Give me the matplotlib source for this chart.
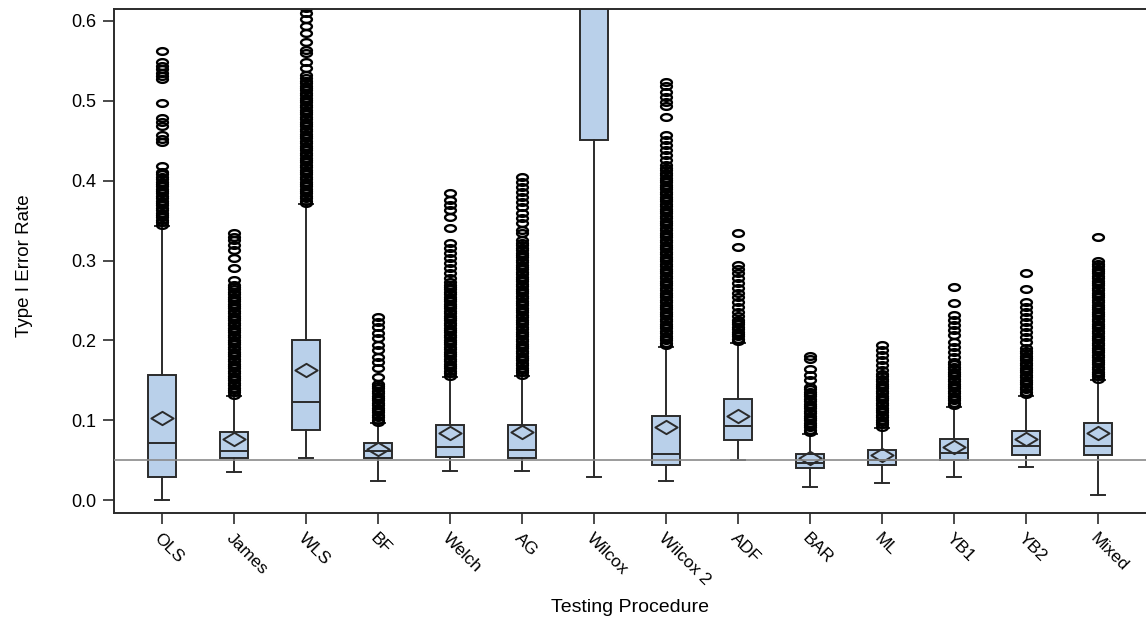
import numpy as np
import matplotlib
matplotlib.use("Agg")
import matplotlib.pyplot as plt
from matplotlib.path import Path

procedures = ["OLS", "James", "WLS", "BF", "Welch", "AG", "Wilcox", "Wilcox 2",
              "ADF", "BAR", "ML", "YB1", "YB2", "Mixed"]

q1 = [0.029, 0.053, 0.088, 0.053, 0.054, 0.053, 0.451, 0.044, 0.075, 0.040, 0.044, 0.050, 0.057, 0.057]
medians = [0.071, 0.061, 0.123, 0.061, 0.066, 0.063, 0.760, 0.058, 0.093, 0.046, 0.050, 0.059, 0.068, 0.068]
q3 = [0.157, 0.085, 0.200, 0.071, 0.094, 0.094, 0.950, 0.105, 0.127, 0.058, 0.063, 0.076, 0.086, 0.096]
means = [0.103, 0.076, 0.163, 0.064, 0.084, 0.085, 0.780, 0.092, 0.105, 0.053, 0.056, 0.067, 0.077, 0.084]
whis_lo = [0.000, 0.035, 0.053, 0.024, 0.036, 0.036, 0.029, 0.024, 0.050, 0.017, 0.022, 0.029, 0.041, 0.007]
whis_hi = [0.343, 0.131, 0.371, 0.096, 0.154, 0.155, 1.000, 0.192, 0.197, 0.083, 0.090, 0.117, 0.131, 0.150]

# outliers (solid-looking columns listed at ~0.003 spacing)
ols_out = [0.345, 0.348, 0.351, 0.354, 0.357, 0.360, 0.363, 0.366, 0.369, 0.372, 0.375, 0.378, 0.381,
           0.384, 0.387, 0.390, 0.393, 0.396, 0.399, 0.402, 0.405, 0.408, 0.411, 0.418, 0.449, 0.452,
           0.457, 0.468, 0.474, 0.478, 0.497, 0.527, 0.531, 0.535, 0.540, 0.544, 0.549, 0.562]
james_out = [0.132, 0.135, 0.138, 0.141, 0.144, 0.147, 0.150, 0.153, 0.156, 0.159, 0.162, 0.165, 0.168,
             0.171, 0.174, 0.177, 0.180, 0.183, 0.186, 0.189, 0.192, 0.195, 0.198, 0.201, 0.204, 0.207,
             0.210, 0.213, 0.216, 0.219, 0.222, 0.225, 0.228, 0.231, 0.234, 0.237, 0.240, 0.243, 0.246,
             0.249, 0.252, 0.255, 0.258, 0.261, 0.264, 0.267, 0.270, 0.276, 0.291, 0.303, 0.313, 0.320,
             0.326, 0.330, 0.334]
wls_out = [0.372, 0.375, 0.378, 0.381, 0.384, 0.387, 0.390, 0.393, 0.396, 0.399, 0.402, 0.405, 0.408,
           0.411, 0.414, 0.417, 0.420, 0.423, 0.426, 0.429, 0.432, 0.435, 0.438, 0.441, 0.444, 0.447,
           0.450, 0.453, 0.456, 0.459, 0.462, 0.465, 0.468, 0.471, 0.474, 0.477, 0.480, 0.483, 0.486,
           0.489, 0.492, 0.495, 0.498, 0.501, 0.504, 0.507, 0.510, 0.513, 0.516, 0.519, 0.522, 0.525,
           0.528, 0.532, 0.541, 0.549, 0.560, 0.564, 0.574, 0.585, 0.594, 0.602, 0.610, 0.616]
bf_out = [0.098, 0.101, 0.104, 0.107, 0.110, 0.113, 0.116, 0.119, 0.122, 0.125, 0.128, 0.131, 0.134,
          0.137, 0.140, 0.143, 0.146, 0.154, 0.165, 0.173, 0.179, 0.188, 0.194, 0.203, 0.209, 0.217,
          0.223, 0.229]
welch_out = [0.156, 0.159, 0.162, 0.165, 0.168, 0.171, 0.174, 0.177, 0.180, 0.183, 0.186, 0.189, 0.192,
             0.195, 0.198, 0.201, 0.204, 0.207, 0.210, 0.213, 0.216, 0.219, 0.222, 0.225, 0.228, 0.231,
             0.234, 0.237, 0.240, 0.243, 0.246, 0.249, 0.252, 0.255, 0.258, 0.261, 0.264, 0.267, 0.270,
             0.273, 0.278, 0.284, 0.291, 0.297, 0.303, 0.310, 0.316, 0.322, 0.341, 0.355, 0.363, 0.370,
             0.376, 0.385]
ag_out = [0.157, 0.160, 0.163, 0.166, 0.169, 0.172, 0.175, 0.178, 0.181, 0.184, 0.187, 0.190, 0.193,
          0.196, 0.199, 0.202, 0.205, 0.208, 0.211, 0.214, 0.217, 0.220, 0.223, 0.226, 0.229, 0.232,
          0.235, 0.238, 0.241, 0.244, 0.247, 0.250, 0.253, 0.256, 0.259, 0.262, 0.265, 0.268, 0.271,
          0.274, 0.277, 0.280, 0.283, 0.286, 0.289, 0.292, 0.295, 0.298, 0.301, 0.304, 0.307, 0.310,
          0.313, 0.316, 0.319, 0.322, 0.326, 0.335, 0.338, 0.347, 0.353, 0.360, 0.367, 0.373, 0.380,
          0.386, 0.392, 0.398, 0.405]
wilcox_out = []
wilcox2_out = [0.194, 0.197, 0.200, 0.203, 0.206, 0.209, 0.212, 0.215, 0.218, 0.221, 0.224, 0.227,
               0.230, 0.233, 0.236, 0.239, 0.242, 0.245, 0.248, 0.251, 0.254, 0.257, 0.260, 0.263,
               0.266, 0.269, 0.272, 0.275, 0.278, 0.281, 0.284, 0.287, 0.290, 0.293, 0.296, 0.299,
               0.302, 0.305, 0.308, 0.311, 0.314, 0.317, 0.320, 0.323, 0.326, 0.329, 0.332, 0.335,
               0.338, 0.341, 0.344, 0.347, 0.350, 0.353, 0.356, 0.359, 0.362, 0.365, 0.368, 0.371,
               0.374, 0.377, 0.380, 0.383, 0.386, 0.389, 0.392, 0.395, 0.398, 0.401, 0.404, 0.407,
               0.410, 0.413, 0.416, 0.420, 0.426, 0.432, 0.439, 0.445, 0.451, 0.457, 0.480, 0.493,
               0.499, 0.505, 0.511, 0.518, 0.524]
adf_out = [0.199, 0.202, 0.205, 0.208, 0.211, 0.214, 0.217, 0.220, 0.223, 0.226, 0.230, 0.236, 0.242,
           0.248, 0.254, 0.260, 0.266, 0.272, 0.278, 0.284, 0.290, 0.295, 0.317, 0.334]
bar_out = [0.085, 0.088, 0.091, 0.094, 0.097, 0.100, 0.103, 0.106, 0.109, 0.112, 0.115, 0.118, 0.121,
           0.124, 0.127, 0.130, 0.133, 0.136, 0.139, 0.142, 0.150, 0.157, 0.164, 0.177, 0.180]
ml_out = [0.092, 0.095, 0.098, 0.101, 0.104, 0.107, 0.110, 0.113, 0.116, 0.119, 0.122, 0.125, 0.128,
          0.131, 0.134, 0.137, 0.140, 0.143, 0.146, 0.149, 0.152, 0.155, 0.158, 0.163, 0.169, 0.175,
          0.182, 0.188, 0.194]
yb1_out = [0.119, 0.122, 0.125, 0.128, 0.131, 0.134, 0.137, 0.140, 0.143, 0.146, 0.149, 0.152, 0.155,
           0.158, 0.161, 0.164, 0.167, 0.170, 0.173, 0.179, 0.185, 0.192, 0.198, 0.207, 0.213, 0.219,
           0.226, 0.232, 0.247, 0.267]
yb2_out = [0.133, 0.136, 0.139, 0.142, 0.145, 0.148, 0.151, 0.154, 0.157, 0.160, 0.163, 0.166, 0.169,
           0.172, 0.175, 0.178, 0.181, 0.184, 0.187, 0.190, 0.198, 0.204, 0.211, 0.217, 0.223, 0.229,
           0.236, 0.242, 0.248, 0.264, 0.285]
mixed_out = [0.152, 0.155, 0.158, 0.161, 0.164, 0.167, 0.170, 0.173, 0.176, 0.179, 0.182, 0.185, 0.188,
             0.191, 0.194, 0.197, 0.200, 0.203, 0.206, 0.209, 0.212, 0.215, 0.218, 0.221, 0.224, 0.227,
             0.230, 0.233, 0.236, 0.239, 0.242, 0.245, 0.248, 0.251, 0.254, 0.257, 0.260, 0.263, 0.266,
             0.269, 0.272, 0.275, 0.278, 0.281, 0.284, 0.287, 0.290, 0.293, 0.296, 0.300, 0.329]

outliers = [ols_out, james_out, wls_out, bf_out, welch_out, ag_out, wilcox_out, wilcox2_out,
            adf_out, bar_out, ml_out, yb1_out, yb2_out, mixed_out]

nominal_alpha = 0.05
yticks = [0.0, 0.1, 0.2, 0.3, 0.4, 0.5, 0.6]

stats = []
for i, name in enumerate(procedures):
    stats.append(dict(label=name, q1=q1[i], med=medians[i], q3=q3[i], mean=means[i],
                      whislo=whis_lo[i], whishi=whis_hi[i], fliers=outliers[i]))

# squashed circle / diamond markers like the original output
t = np.linspace(0, 2 * np.pi, 40)
ellipse = Path(np.column_stack([np.cos(t), 0.62 * np.sin(t)]), closed=True)
diamond = Path([(-1, 0), (0, 0.6), (1, 0), (0, -0.6), (-1, 0)], closed=True)

plt.rcParams['font.family'] = ['Liberation Sans', 'DejaVu Sans']

fig = plt.figure(figsize=(11.46, 6.21), dpi=100)
ax = fig.add_axes([0.0995, 0.174, 0.9005, 0.8115])

edge = '#2b2b2b'
ax.bxp(stats, positions=np.arange(1, len(procedures) + 1), widths=0.4, capwidths=0.2,
       showmeans=True, showfliers=True, patch_artist=True,
       boxprops=dict(facecolor='#b9d0ea', edgecolor=edge, linewidth=1.4),
       medianprops=dict(color=edge, linewidth=1.4),
       whiskerprops=dict(color=edge, linewidth=1.4),
       capprops=dict(color=edge, linewidth=1.4),
       meanprops=dict(marker=diamond, markersize=16, markerfacecolor='none',
                      markeredgecolor=edge, markeredgewidth=1.4),
       flierprops=dict(marker=ellipse, markersize=7.8, markerfacecolor='none',
                       markeredgecolor='black', markeredgewidth=1.7, linestyle='none'))

ax.axhline(nominal_alpha, color='#8a8a8a', linewidth=1.2, zorder=5)

ax.set_xlim(0.333, 14.667)
ax.set_ylim(-0.016, 0.615)
ax.set_yticks(yticks)
ax.set_yticklabels([f"{v:.1f}" for v in yticks], fontsize=13)
ax.set_xticks(np.arange(1, len(procedures) + 1))
ax.set_xticklabels(procedures, rotation=-45, ha='left', va='top', rotation_mode='anchor', fontsize=12.5)

ax.spines['right'].set_visible(False)
for s in ['left', 'bottom', 'top']:
    ax.spines[s].set_color(edge)
    ax.spines[s].set_linewidth(1.4)
ax.tick_params(direction='out', length=8, width=1.2, color=edge, pad=5)

ax.set_ylabel("Type I Error Rate", fontsize=13.5)
ax.yaxis.set_label_coords(-0.079, 0.49)
ax.set_xlabel("Testing Procedure", fontsize=14)
ax.xaxis.set_label_coords(0.5, -0.17)

fig.savefig("out.png", dpi=100)
